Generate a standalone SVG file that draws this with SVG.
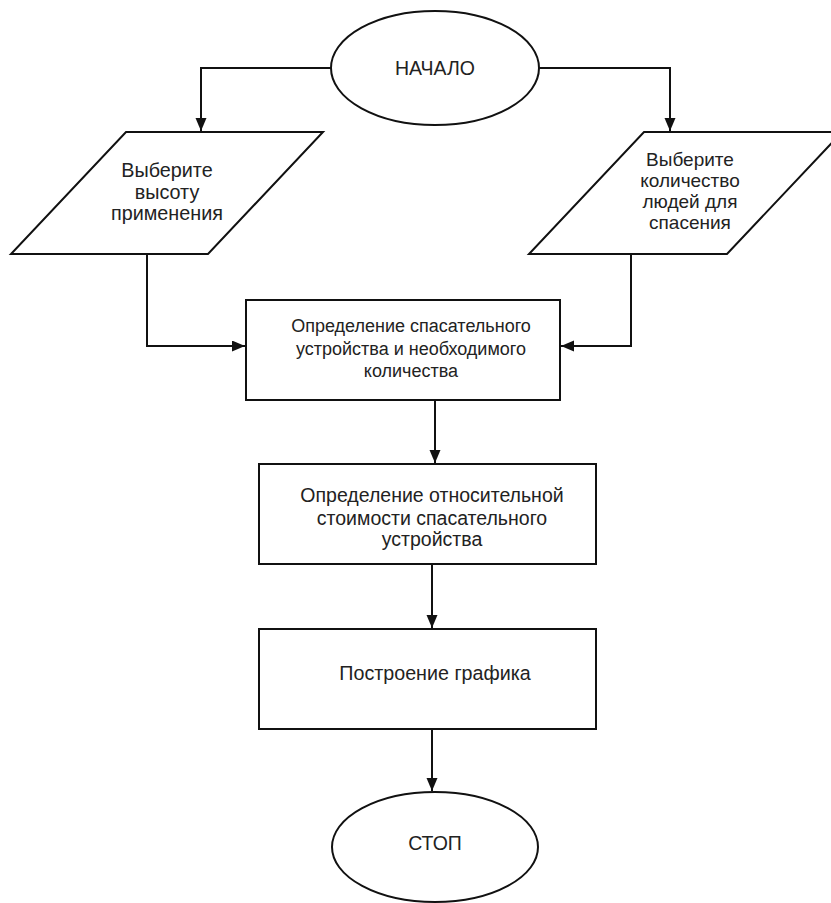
<svg xmlns="http://www.w3.org/2000/svg" width="831" height="903" viewBox="0 0 831 903">
<style>
.shape{fill:#fff;stroke:#111;stroke-width:2}
.conn{fill:none;stroke:#111;stroke-width:2}
text{font-family:"Liberation Sans",Arial,sans-serif;font-size:19.5px;fill:#222;text-anchor:middle}
</style>
<defs>
<marker id="arr" markerUnits="userSpaceOnUse" markerWidth="14" markerHeight="12" refX="13" refY="5.5" orient="auto">
<path d="M0,0 L13,5.5 L0,11 Z" fill="#111"/>
</marker>
</defs>
<rect width="831" height="903" fill="#fff"/>
<g id="start">
<ellipse class="shape" cx="435" cy="68" rx="104" ry="57"/>
<text x="435" y="75">НАЧАЛО</text>
</g>
<g id="input-height" style="font-size:19.8px">
<polygon class="shape" points="126,132 323,132 208,254 11,254"/>
<text x="167" y="177" style="font-size:19.8px">Выберите</text>
<text x="167" y="198.5" style="font-size:19.8px">высоту</text>
<text x="167" y="220" style="font-size:19.8px">применения</text>
</g>
<g id="input-people">
<polygon class="shape" points="644,132 842,132 727,254 529,254"/>
<text x="690" y="166" style="font-size:19px">Выберите</text>
<text x="690" y="187" style="font-size:19px">количество</text>
<text x="690" y="208" style="font-size:19px">людей для</text>
<text x="690" y="229" style="font-size:19px">спасения</text>
</g>
<g id="device">
<rect class="shape" x="246" y="300" width="314" height="100"/>
<text x="411" y="331.5" style="font-size:18px">Определение спасательного</text>
<text x="411" y="354.5" style="font-size:18px">устройства и необходимого</text>
<text x="411" y="376.5" style="font-size:18px">количества</text>
</g>
<g id="cost">
<rect class="shape" x="259" y="464" width="337" height="100"/>
<text x="432" y="501.5">Определение относительной</text>
<text x="432" y="524.5">стоимости спасательного</text>
<text x="432" y="546">устройства</text>
</g>
<g id="plot">
<rect class="shape" x="259" y="629" width="337" height="100"/>
<text x="435" y="680" style="font-size:19.7px">Построение графика</text>
</g>
<g id="stop">
<ellipse class="shape" cx="435" cy="847" rx="103" ry="55"/>
<text x="435" y="850">СТОП</text>
</g>
<g id="connectors">
<path class="conn" d="M331,68 H201 V131" marker-end="url(#arr)"/>
<path class="conn" d="M539,68 H670 V131" marker-end="url(#arr)"/>
<path class="conn" d="M147,254 V346 H245" marker-end="url(#arr)"/>
<path class="conn" d="M631,254 V346 H561" marker-end="url(#arr)"/>
<path class="conn" d="M435,400 V463" marker-end="url(#arr)"/>
<path class="conn" d="M432,564 V628" marker-end="url(#arr)"/>
<path class="conn" d="M432,729 V791" marker-end="url(#arr)"/>
</g>
</svg>
